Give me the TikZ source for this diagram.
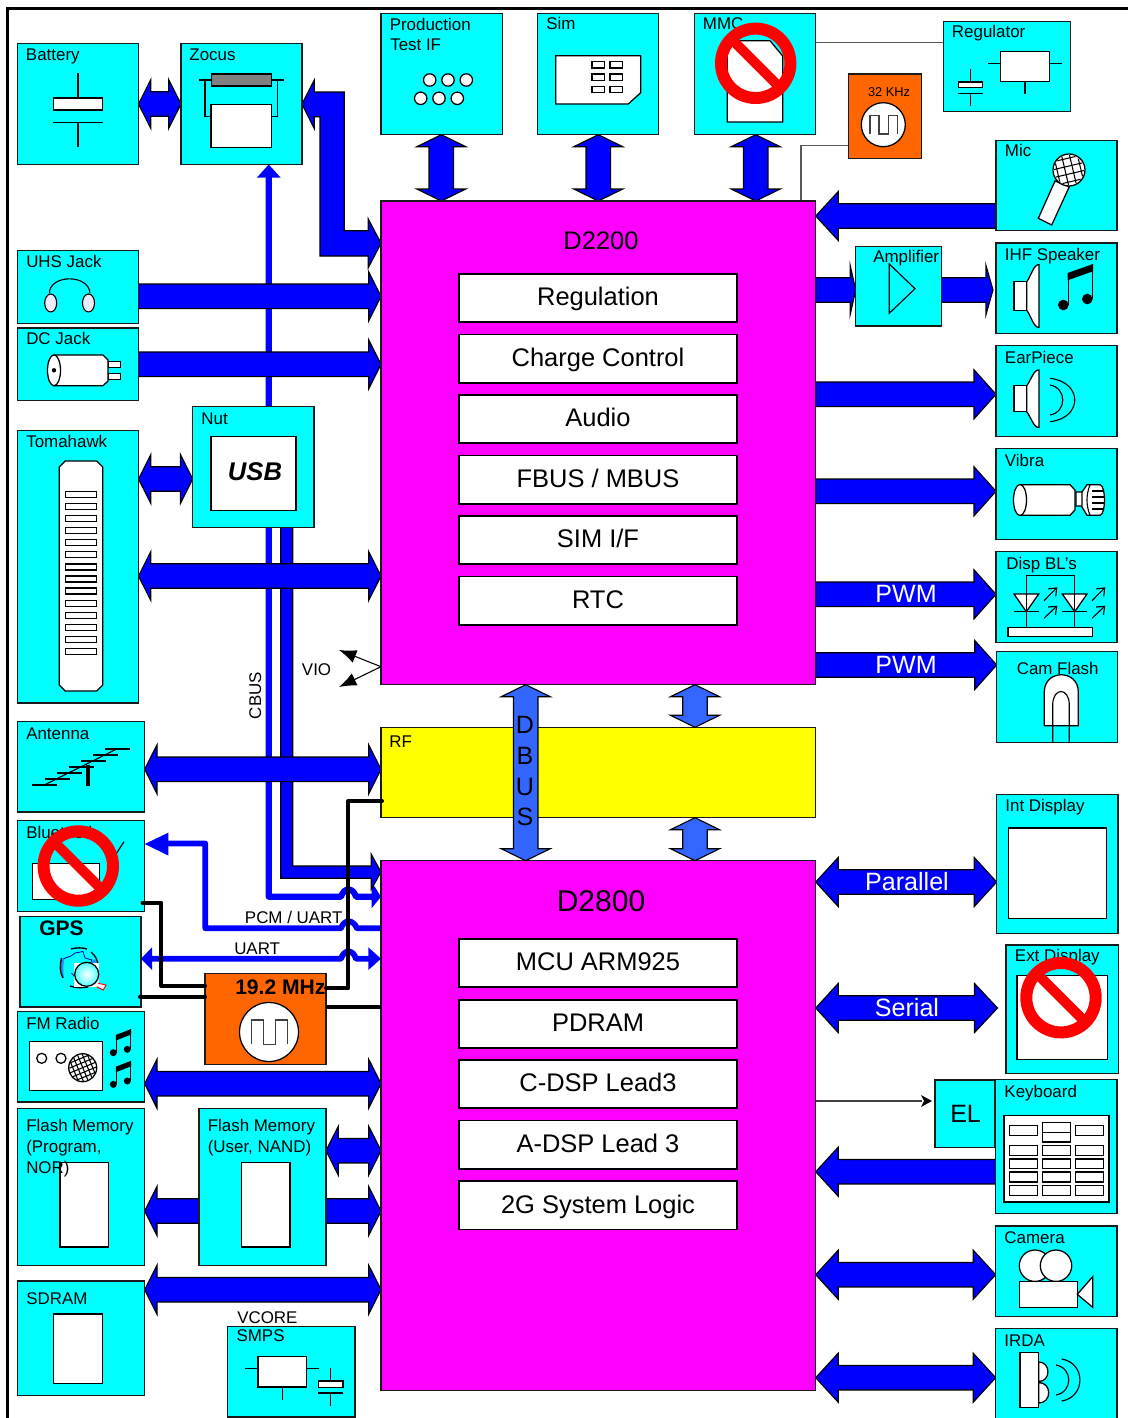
\documentclass[tikz,border=0pt]{standalone}
\usepackage{fontspec}
\setmainfont{Liberation Sans}
\usetikzlibrary{calc,arrows.meta}
\pgfdeclarelayer{conn}
\pgfdeclarelayer{top}
\pgfsetlayers{conn,main,top}
\definecolor{orng}{HTML}{FF6600}
\definecolor{dbus}{HTML}{3366FF}
\definecolor{edge}{HTML}{1A1A1A}
\definecolor{globeblue}{HTML}{1E90FF}
\tikzset{
  boxst/.style={draw=edge,line width=0.95pt,inner sep=0pt,outer sep=0pt,fill=cyan},
  lab/.style={anchor=base west,inner sep=0pt,font=\fontsize{12.7}{14}\selectfont,text=black},
  chiplab/.style={inner sep=0pt,font=\fontsize{19.1}{21}\selectfont,text=black},
  barrow/.style={draw=black,line width=0.85pt,fill=blue,line join=miter},
  icon/.style={draw=black,line width=0.85pt},
  wht/.style={draw=black,line width=0.95pt,fill=white},
  thinblue/.style={draw=blue,line width=4.6pt,line join=round},
  blk/.style={draw=black,line width=3pt,line join=round,line cap=round},
  thingray/.style={draw=black!65,line width=0.8pt},
}
\definecolor{cyan}{HTML}{00FFFF}
\definecolor{magenta}{HTML}{FF00FF}
\definecolor{yellow}{HTML}{FFFF00}
\definecolor{blue}{HTML}{0000FF}
\definecolor{red}{HTML}{FF0000}
% box: [fill]{name}{x0}{y0}{x1}{y1}
\newcommand\bx[6][cyan]{%
  \pgfmathsetmacro\bw{(#5-#3)*0.75}%
  \pgfmathsetmacro\bh{(#6-#4)*0.75}%
  \node[boxst,fill=#1,minimum width=\bw pt,minimum height=\bh pt] (#2) at ({(#3+#5)/2},{(#4+#6)/2}) {};%
}
\newcommand\tx[5][]{\node[lab,#1] (#2) at (#3,#4) {#5};}
\newcommand\wb[4]{\draw[wht] (#1,#2) rectangle (#3,#4);}
% double block arrow: [opts]{from}{to}{head A}{head B}
\newcommand\dbl[5][]{%
  \coordinate (bA) at (#2); \coordinate (bB) at (#3);
  \pgfmathsetmacro\hA{#4*0.75}\pgfmathsetmacro\hB{#5*0.75}
  \coordinate (pA) at ($(bA)!\hA pt!(bB)$); \coordinate (pB) at ($(bB)!\hB pt!(bA)$);
  \draw[barrow,#1] (bA) -- ($(pA)!18.4pt!90:(bB)$) -- ($(pA)!9.2pt!90:(bB)$) -- ($(pB)!9.2pt!-90:(bA)$) -- ($(pB)!18.4pt!-90:(bA)$) -- (bB) -- ($(pB)!18.4pt!90:(bA)$) -- ($(pB)!9.2pt!90:(bA)$) -- ($(pA)!9.2pt!-90:(bB)$) -- ($(pA)!18.4pt!-90:(bB)$) -- cycle;
}
% single block arrow with head at the second point
\newcommand\sgl[4][]{%
  \coordinate (bA) at (#2); \coordinate (bB) at (#3);
  \pgfmathsetmacro\hB{#4*0.75}
  \coordinate (pB) at ($(bB)!\hB pt!(bA)$);
  \draw[barrow,#1] ($(bA)!9.2pt!90:(bB)$) -- ($(pB)!9.2pt!-90:(bA)$) -- ($(pB)!18.4pt!-90:(bA)$) -- (bB) -- ($(pB)!18.4pt!90:(bA)$) -- ($(pB)!9.2pt!90:(bA)$) -- ($(bA)!9.2pt!-90:(bB)$) -- cycle;
}
\newcommand\nosign[2]{%
  \draw[red,line width=9pt] (#1,#2) circle[radius=34.7];
  \draw[red,line width=7.5pt] (#1-24.5,#2-24.5) -- (#1+24.5,#2+24.5);
}
\newcommand\wave[6]{\draw[draw=black!75,line width=0.8pt] (#1,#6) -- (#1,#5) -- (#2,#5) -- (#2,#6) -- (#3,#6) -- (#3,#5) -- (#4,#5) -- (#4,#6);}
\newcommand\speaker[6]{% rect x0,x1,y0,y1, cone x, cone y0 via args
  \draw[wht] (#1,#3) rectangle (#2,#4);
  \draw[wht] (#2,#3) .. controls (#2+4,#3-5) and (#5-5,#6-1) .. (#5,#6) -- (#5,{#3+#4-#6}) .. controls (#5-5,{#3+#4-#6+1}) and (#2+4,#4+5) .. (#2,#4) -- cycle;
}
\newcommand\note[7]{% two-headed note
  \fill[black] (#1,#2) circle[radius=#7];
  \fill[black] (#3,#4) circle[radius=#7];
  \draw[black,line width=1pt] (#1+#7-0.3,#2) -- (#1+#7-0.3,#5);
  \draw[black,line width=1pt] (#3+#7-0.3,#4) -- (#3+#7-0.3,#6);
  \fill[black] (#1+#7-1,#5) -- (#3+#7+0.4,#6) -- (#3+#7+0.4,#6+#7+2) -- (#1+#7-1,#5+#7+2) -- cycle;
}
\begin{document}
\begin{tikzpicture}[x=0.75pt,y=-0.75pt]
\useasboundingbox (0,0) rectangle (1128,1418);
\begin{pgfonlayer}{conn}
\fill[white] (0,0) rectangle (1128,1418);
\end{pgfonlayer}
\draw[black,line width=2.4pt] (7.5,1420) -- (7.5,8.5) -- (1130,8.5);

% ---------- boxes ----------
\bx{batt}{17.5}{43.5}{138.5}{164.5}
\bx{zoc}{181}{43.5}{302}{164.5}
\bx{prod}{381}{13.7}{502.7}{134.7}
\bx{sim}{537.7}{13.7}{658.7}{134.7}
\bx{mmc}{694.7}{13.7}{815.7}{134.7}
\bx{reg}{943.3}{21.3}{1070.3}{111.7}
\bx[orng]{khz}{848.7}{74}{921.3}{158.7}
\bx{mic}{996}{140.3}{1117}{230.7}
\bx{amp}{855.7}{246.3}{941.3}{326}
\bx{ihf}{996}{243}{1117}{333.7}
\bx{ear}{996}{345.7}{1117}{436.7}
\bx{vib}{996}{448.7}{1117}{539.3}
\bx{disp}{996}{551.7}{1117}{642.3}
\bx{cam}{996.7}{651.3}{1117.7}{742.3}
\bx{uhs}{17.5}{250.7}{138.5}{323.3}
\bx{dc}{17.5}{328}{138.5}{400.3}
\bx{nut}{192.7}{406.7}{314}{527.3}
\bx{tom}{17.5}{430.7}{138.5}{703}
\bx{ant}{17.5}{721.3}{144.7}{812}
\bx{bt}{17.5}{820.7}{144.7}{911.7}
\bx{gps}{20}{916.3}{141}{1007}
\bx{fm}{17.5}{1011.3}{144.7}{1102}
\bx[orng]{osc}{205}{973.7}{326}{1064.3}
\bx{fprog}{17.5}{1108.3}{144.7}{1265.3}
\bx{fuser}{199}{1108.3}{326}{1265.3}
\bx{sdram}{17.5}{1281}{144.7}{1395.7}
\bx{smps}{227.7}{1326.7}{355}{1417}
\bx[magenta]{da}{381}{201}{815.7}{684.7}
\bx[yellow]{rf}{381}{727.3}{815.7}{817.7}
\bx[magenta]{db}{381}{860.7}{815.7}{1390.7}
\bx{intd}{996.7}{794.3}{1118}{933.3}
\bx{extd}{1006}{945}{1118.3}{1073.3}
\bx{el}{935}{1080}{994.3}{1147.7}
\bx{kbd}{995.7}{1079.7}{1117}{1213.7}
\bx{camr}{995.7}{1226}{1117}{1316.7}
\bx{irda}{995.7}{1328.7}{1117}{1419}

% ---------- connectors below the boxes ----------
\begin{pgfonlayer}{conn}
  \draw[thingray] (mmc.east |- 0,42.3) -- (reg.west |- 0,42.3);
  \draw[thingray] (khz.west |- 0,145.7) -- (801,145.7) -- (801,0 |- da.north);
  % CBUS
  \draw[thinblue] (268.7,177) -- (268.7,896.7) -- (341,896.7) .. controls (344,887) and (353,887) .. (356,896.7) -- (372,896.7);
  \fill[blue] (268.7,0 |- zoc.south) -- (280.5,177.5) -- (257,177.5) -- cycle;
  \fill[blue] (db.west |- 0,896.7) -- (371.5,881.7) -- (371.5,908.3) -- cycle;
  % PCM / UART
  \draw[thinblue,line width=4.3pt] (db.west |- 0,928.3) -- (357,928.3) .. controls (353,919) and (344,919) .. (341,928.3) -- (205.3,928.3) -- (205.3,843.5) -- (165,843.5);
  \fill[blue] (bt.east |- 0,844) -- (168.3,832.7) -- (168.3,855.5) -- cycle;
  % UART
  \draw[thinblue,line width=4.3pt] (150,958.7) -- (341,958.7) .. controls (344,949) and (353,949) .. (356,958.7) -- (370,958.7);
  \fill[blue] (gps.east |- 0,958.7) -- (152,947.3) -- (152,970) -- cycle;
  \fill[blue] (db.west |- 0,958.7) -- (368.3,947.3) -- (368.3,970) -- cycle;
  % thick bus out of Nut
  \draw[barrow] (280.7,0 |- nut.south) -- (280.7,878.3) -- (371.3,878.3) -- (371.3,889.3) -- (db.west |- 0,872) -- (371.3,854.3) -- (371.3,866) -- (292.7,866) -- (292.7,0 |- nut.south);
  % block arrows, left side
  \dbl{batt.east |- 0,104}{zoc.west |- 0,104}{12.3}{12.3}
  \draw[barrow] (zoc.east |- 0,104) -- (314.3,80) -- (314.3,92) -- (344.3,92) -- (344.3,230.7) -- (368.3,230.7) -- (368.3,219) -- (da.west |- 0,243.3) -- (368.3,267.7) -- (368.3,256) -- (320,256) -- (320,116.7) -- (314.3,116.7) -- (314.3,128.7) -- cycle;
  \sgl{uhs.east |- 0,296.3}{da.west |- 0,296.3}{12.3}
  \sgl{dc.east |- 0,364.3}{da.west |- 0,364.3}{12.3}
  \dbl{tom.east |- 0,479}{nut.west |- 0,479}{12.3}{12.3}
  \dbl{tom.east |- 0,576}{da.west |- 0,576}{12.3}{12.3}
  \dbl{ant.east |- 0,769.3}{rf.west |- 0,769.3}{12.3}{12.3}
  \dbl{fm.east |- 0,1083.7}{db.west |- 0,1083.7}{12.3}{12.3}
  \dbl{fuser.east |- 0,1150.7}{db.west |- 0,1150.7}{12.3}{12.3}
  \sgl{fuser.east |- 0,1211}{db.west |- 0,1211}{12.3}
  \sgl{fuser.west |- 0,1211}{fprog.east |- 0,1211}{12.3}
  \dbl{sdram.east |- 0,1289.7}{db.west |- 0,1289.7}{12.3}{12.3}
  % block arrows, top
  \dbl{441.3,0 |- prod.south}{441.3,0 |- da.north}{12}{12}
  \dbl{598.3,0 |- sim.south}{598.3,0 |- da.north}{12}{12}
  \dbl{755.7,0 |- mmc.south}{755.7,0 |- da.north}{12}{12}
  % block arrows, right side
  \sgl{mic.west |- 0,216}{da.east |- 0,216}{22.6}
  \sgl{da.east |- 0,290}{amp.west |- 0,290}{5.5}
  \sgl{amp.east |- 0,290}{993,290}{7}
  \sgl{da.east |- 0,394.3}{ear.west |- 0,394.3}{22}
  \sgl{da.east |- 0,491.3}{vib.west |- 0,491.3}{22}
  \sgl{da.east |- 0,594.3}{disp.west |- 0,594.3}{22}
  \sgl{da.east |- 0,665}{cam.west |- 0,665}{22}
  \dbl{db.east |- 0,882}{intd.west |- 0,882}{22.5}{22.5}
  \dbl{db.east |- 0,1008}{997.5,1008}{22.5}{23}
  \sgl{kbd.west |- 0,1171.7}{db.east |- 0,1171.7}{22.5}
  \dbl{db.east |- 0,1274.7}{camr.west |- 0,1274.7}{22.5}{22.5}
  \dbl{db.east |- 0,1377.7}{irda.west |- 0,1377.7}{22.5}{22.5}
  % EL and VIO
  \coordinate (elin) at (932,1101);
  \draw[thingray,black!75] (db.east |- 0,1101) -- (922,1101);
  \fill[black] (elin) -- (921,1095) -- (924,1101) -- (921,1107) -- cycle;
  \coordinate (vioA) at (339,650);
  \coordinate (vioB) at (339,687);
  \draw[line width=0.8pt,-{Latex[length=13pt,width=10pt]}] (da.west |- 0,666.7) -- (vioA);
  \draw[line width=0.8pt,-{Latex[length=13pt,width=10pt]}] (da.west |- 0,666.7) -- (vioB);
\end{pgfonlayer}

% ---------- chip contents ----------
\foreach \nm/\yy/\yz/\chiptxt in {a/274/322/Regulation,b/334.5/383/Charge Control,c/395/443/Audio,d/455.5/504/{FBUS / MBUS},e/516/564/{SIM I/F},f/576.5/625/RTC,g/939/987/MCU ARM925,h/1000/1048/PDRAM,i/1060/1108/C-DSP Lead3,j/1120.5/1169/A-DSP Lead 3,k/1181/1229.5/2G System Logic}{
  \node[draw=black,line width=0.95pt,fill=white,minimum width=208.5pt,inner sep=0pt,outer sep=0pt,minimum height={(\yz-\yy)*0.75pt},chiplab,text height=11.8pt,text depth=0pt] (chip\nm) at (598,{(\yy+\yz)/2}) {\chiptxt};
}
\node[chiplab,anchor=base] (dat) at (601,249) {D2200};
\node[chiplab,anchor=base,font=\fontsize{22.5}{24}\selectfont] (dbt) at (601,911) {D2800};

% ---------- icons ----------
% Battery
\draw[icon] (78,73.3) -- (78,98);
\wb{53.7}{98}{102.3}{110}
\draw[icon] (53.3,122.3) -- (102.7,122.3) (78,122.3) -- (78,146.7);
% Zocus
\draw[icon] (198.7,80) -- (284,80) (205,80) -- (205,116.7) -- (211,116.7) (277.7,80) -- (277.7,116.7) -- (271.7,116.7);
\draw[icon,fill=black!50] (211.3,74) rectangle (271.7,86);
\wb{211}{104.3}{271.7}{147.7}
% Production
\foreach \cx/\cy in {429.7/80,448/80,466.3/80,420.7/98.3,439/98.3,457.3/98.3}{\draw[wht] (\cx,\cy) circle[radius=6.2];}
% Sim
\draw[wht] (555.7,55.7) -- (640.7,55.7) -- (640.7,92.7) -- (628.3,104) -- (555.7,104) -- cycle;
\foreach \cy in {61.7,74,86.3}{\draw[wht] (592,\cy) rectangle (604.7,\cy+6.2); \draw[wht] (610,\cy) rectangle (622.7,\cy+6.2);}
% MMC card
\draw[wht] (727.3,40.7) -- (770,40.7) -- (782.7,56) -- (782.7,122) -- (727.3,122) -- cycle;
% Regulator
\wb{1000.7}{51.7}{1049.3}{81.3}
\draw[icon] (988.3,63.3) -- (1000.7,63.3) (1049.3,63.3) -- (1061.7,63.3) (1025,81.3) -- (1025,94) (970.7,69.3) -- (970.7,82) (958,93.7) -- (983,93.7) (970.7,93.7) -- (970.7,106);
\wb{958.7}{82}{982.7}{87.7}
% 32 KHz
\draw[wht] (883.3,124.7) circle[radius=22];
\wave{870}{879}{888.3}{897.3}{115.3}{134}
% Mic
\draw[wht] (1055,181) -- (1069.3,186.7) -- (1051.7,225) -- (1038.3,218.3) -- cycle;
\draw[wht] (1069,170) circle[radius=16];
\begin{scope}
  \clip (1069,170) circle[radius=15];
  \foreach \k in {-12,-4,4,12}{
    \draw[black,line width=0.8pt] (1052,170+\k+4) -- (1086,170+\k-4);
    \draw[black,line width=0.8pt] (1069+\k-4,153) -- (1069+\k+4,187);
  }
\end{scope}
% Amplifier
\draw[icon] (889.3,264) -- (889.3,313.3) -- (915,288.7) -- cycle;
% IHF speaker
\speaker{1014}{1026.7}{281.7}{310.3}{1039}{264.7}
\note{1063.3}{305}{1087.3}{299}{273}{264}{5.3}
% EarPiece
\speaker{1014}{1026.7}{385.7}{411.7}{1039}{370}
\draw[icon] (1050,385) .. controls (1067,388) and (1067,412) .. (1050,415);
\draw[icon] (1050,378.3) .. controls (1083,382) and (1083,418) .. (1050,421.7);
% Vibra
\draw[wht] (1076,492) -- (1085,492) .. controls (1088,494) and (1088,503) .. (1085,506) -- (1076,506) -- cycle;
\draw[wht] (1020,484.7) -- (1070,484.7) -- (1075,490) -- (1075,510) -- (1070,515.3) -- (1020,515.3) -- cycle;
\draw[wht] (1020,500) ellipse[x radius=6.5,y radius=15.5];
\draw[wht] (1082,492) -- (1087,484.7) -- (1100,484.7) .. controls (1106,486) and (1106,514) .. (1100,515.3) -- (1087,515.3) -- (1082,507) -- cycle;
\draw[icon] (1090,484.7) .. controls (1086,495) and (1086,505) .. (1090,515.3);
\draw[icon] (1092,491) -- (1103,491) (1092,497) -- (1104,497) (1092,503) -- (1104,503) (1092,509) -- (1103,509);
% Disp BLs
\draw[icon] (1026.3,627.3) -- (1026.3,575.7) -- (1074.7,575.7) -- (1074.7,627.3);
\draw[wht,fill=white] (1014,594) -- (1038.7,594) -- (1026.3,611.7) -- cycle;
\draw[wht,fill=white] (1062.3,594) -- (1087,594) -- (1074.7,611.7) -- cycle;
\draw[icon] (1026.3,594) -- (1026.3,612) (1074.7,594) -- (1074.7,612);
\draw[icon] (1013.7,611.7) -- (1039,611.7) (1062,611.7) -- (1087.3,611.7);
\wb{1008}{627.3}{1092.7}{636.3}
\foreach \ax in {1044,1092}{
  \draw[icon,-{Straight Barb[length=5pt,width=8pt]}] (\ax,600.7) -- (\ax+13.3,587.3);
  \draw[icon,-{Straight Barb[length=5pt,width=8pt]}] (\ax,618.3) -- (\ax+13.3,605.7);
}
% Cam flash
\draw[wht] (1044.3,725.7) -- (1044.3,692) .. controls (1044.3,669) and (1078.3,669) .. (1078.3,692) -- (1078.3,725.7) -- cycle;
\draw[icon] (1052.7,743) -- (1052.7,705) .. controls (1052.7,687) and (1069.3,687) .. (1069.3,705) -- (1069.3,743);
% UHS
\draw[icon] (49.3,293.3) .. controls (50,274) and (89,274) .. (90,293.3);
\draw[icon,fill=blue!8!white] (50.7,303) ellipse[x radius=6,y radius=9];
\draw[icon,fill=blue!8!white] (88.5,303) ellipse[x radius=6,y radius=9];
% DC jack
\wb{108}{361.7}{120.7}{367.7}
\wb{108}{373.3}{120.7}{379.3}
\draw[wht] (54,355) -- (103,355) -- (108,360) -- (108,381) -- (103,385.7) -- (54,385.7) -- cycle;
\draw[wht] (54,370.3) ellipse[x radius=6.5,y radius=15.4];
\fill[black] (54,370.3) circle[radius=2.2];
% Nut
\wb{211}{436.7}{296}{510.7}
% Tomahawk
\draw[wht] (65.3,461) -- (96.7,461) -- (102.7,467) -- (102.7,685) -- (96.7,691) -- (65.3,691) -- (59.3,685) -- (59.3,467) -- cycle;
\foreach \i in {0,...,13}{\draw[wht] (65.7,491.3+\i*12.1) rectangle (96.7,497.3+\i*12.1);}
% Antenna
\draw[icon] (44.3,785) -- (116.7,749);
\foreach \yy/\xx in {785/32.3,779/44.7,773/57,767/69,761/81,755/93,749/105}{\draw[icon] (\xx,\yy) -- (\xx+25,\yy);}
\draw[black,line width=3pt] (88.3,765) -- (88.3,785.7);
% Bluetooth
\wb{32.3}{863.3}{99.3}{899.3}
\draw[icon] (124,841.7) -- (116,854);
% GPS
\fill[globeblue] (62,958) .. controls (59.5,965) and (60,973) .. (64,978) .. controls (63,972) and (63,964) .. (64.5,958) -- cycle;
\fill[globeblue] (92,961) -- (95,959) -- (98.5,966) -- (98.5,972) -- (93,971) -- cycle;
\draw[black,line width=1pt] (61.5,958) .. controls (59.5,965) and (60,973) .. (63,978);
\draw[black,line width=1pt] (71,949) .. controls (76,947.5) and (83,947.5) .. (87,949);
\draw[black,line width=1pt] (91,952) .. controls (96,956) and (98,961) .. (98.5,968);
\draw[black,line width=1pt] (70,986) .. controls (76,988) and (82,988) .. (88,987);
\draw[blue!70!black,line width=0.6pt] (64,958.5) -- (71,956) -- (75,953) -- (83,951.5) -- (85,958) -- (92,960) -- (90,964);
\draw[blue!70!black,line width=0.6pt] (71.5,973) -- (75,977);
\fill[white] (74,962.7) rectangle (99.3,986.7);
\draw[red,line width=0.7pt,fill=white] (98.3,983.3) -- (106,985) -- (103.3,990) -- (96.7,986.7);
\shade[inner color=white,outer color=cyan!70!white] (86.7,974.3) circle[radius=12];
\draw[black,line width=0.95pt] (86.7,974.3) circle[radius=12];
% FM radio
\wb{29.3}{1041.7}{102.3}{1090.3}
\draw[wht] (41.7,1058.3) circle[radius=5];
\draw[wht] (61,1058.3) circle[radius=5];
\draw[wht] (82.7,1067.7) circle[radius=14];
\begin{scope}
  \clip (82.7,1067.7) circle[radius=13.5];
  \foreach \k in {-10,-5,0,5,10}{
    \draw[black,line width=0.8pt] (68,1067.7+\k+6) -- (97,1067.7+\k-6);
    \draw[black,line width=0.8pt] (82.7+\k-6,1053) -- (82.7+\k+6,1082);
  }
\end{scope}
\note{113.3}{1052.7}{127.3}{1049.3}{1035}{1029}{3.5}
\note{113.3}{1084.4}{127.3}{1081}{1066.7}{1060.7}{3.5}
% 19.2 MHz
\draw[wht] (269,1032) circle[radius=29.5];
\wave{251.7}{263.7}{275.3}{287.3}{1020}{1044.3}
% Flash + SDRAM
\wb{60}{1162.7}{108.3}{1247}
\wb{241.7}{1162.7}{290}{1247}
\wb{53.7}{1314}{102.3}{1383.7}
% SMPS
\wb{258}{1356.7}{306.3}{1387}
\draw[icon] (245.3,1368.7) -- (258,1368.7) (306.3,1368.7) -- (319,1368.7) (282.3,1387) -- (282.3,1399.5) (330.7,1368.3) -- (330.7,1381) (318,1393) -- (343,1393) (330.7,1393) -- (330.7,1405.7);
\wb{318.3}{1381}{343}{1387.3}
% Int / Ext display
\wb{1008.3}{828}{1106.3}{918.3}
\wb{1017}{975.7}{1107.7}{1059.7}
% Keyboard
\wb{1004}{1115.7}{1109}{1202}
\wb{1009.7}{1125.7}{1037.7}{1135.7}
\wb{1075.3}{1125.7}{1103.3}{1135.7}
\wb{1042.7}{1122.7}{1070.3}{1132.3}
\wb{1042.7}{1132.3}{1070.3}{1142}
\foreach \r/\s in {1145.7/1155.7,1159/1168.7,1172/1182,1185.3/1195.3}{
  \wb{1009.7}{\r}{1037.7}{\s}
  \wb{1042.7}{\r}{1070.3}{\s}
  \wb{1075.3}{\r}{1103.3}{\s}
}
% Camera
\draw[wht] (1035,1265.7) circle[radius=15.7];
\draw[wht] (1056,1265.7) circle[radius=15.7];
\wb{1019.7}{1281.3}{1077.3}{1307.3}
\draw[wht] (1077.3,1294.3) -- (1092.7,1276.7) -- (1092.7,1307.3) -- cycle;
% IRDA
\draw[wht] (1038.7,1362) .. controls (1051,1362) and (1051,1381.5) .. (1038.7,1381.5) -- cycle;
\draw[wht] (1038.7,1382.5) .. controls (1052,1382.5) and (1052,1403) .. (1038.7,1403) -- cycle;
\wb{1020}{1352.7}{1038.7}{1407.7}
\draw[icon] (1056,1365) .. controls (1073,1368) and (1073,1392) .. (1056,1395);
\draw[icon] (1061.7,1359) .. controls (1086,1363) and (1086,1397) .. (1061.7,1401);

% ---------- labels ----------
\tx{battt}{25.7}{60.5}{Battery}
\tx{zoct}{189.2}{60.5}{Zocus}
\tx{prodA}{389.5}{30}{Production}
\tx{prodB}{390}{50}{Test IF}
\tx{simt}{546}{29}{Sim}
\tx{mmct}{702.7}{29}{MMC}
\tx{regt}{951.7}{37}{Regulator}
\tx[font=\fontsize{9.6}{11}\selectfont,anchor=base]{khzt}{889}{96}{32 KHz}
\tx{mict}{1004.7}{156}{Mic}
\tx{ampt}{873}{262}{Amplifier}
\tx{ihft}{1004.7}{260}{IHF Speaker}
\tx{eart}{1004.7}{363}{EarPiece}
\tx{vibt}{1004.7}{466}{Vibra}
\tx{dispt}{1006.2}{569.5}{Disp BL's}
\tx{camt}{1016.5}{674}{Cam Flash}
\tx{uhst}{26}{267.5}{UHS Jack}
\tx{dct}{26}{344.5}{DC Jack}
\tx{nutt}{201.2}{424}{Nut}
\tx{tomt}{26}{447}{Tomahawk}
\tx{antt}{26}{739}{Antenna}
\tx{btt}{26}{838.5}{Bluetooth}
\tx{fmt}{26}{1029}{FM Radio}
\tx{fpA}{26}{1131.7}{Flash Memory}
\tx{fpB}{26}{1152.7}{(Program,}
\tx{fpC}{26}{1173.3}{NOR)}
\tx{fuA}{207.5}{1131.7}{Flash Memory}
\tx{fuB}{207.5}{1152.7}{(User, NAND)}
\tx{sdt}{26}{1304.5}{SDRAM}
\tx{vcA}{237}{1323}{VCORE}
\tx{smA}{236.3}{1341.5}{SMPS}
\tx{intt}{1005.2}{811.5}{Int Display}
\tx{extt}{1014.7}{961}{Ext Display}
\tx{kbdt}{1004.2}{1097}{Keyboard}
\tx{camrt}{1004.2}{1243}{Camera}
\tx{irdat}{1004.2}{1346}{IRDA}
\tx{rft}{389.2}{747}{RF}
\tx{viot}{301.7}{675.7}{VIO}
\tx{pcmt}{244.7}{923.3}{PCM / UART}
\tx{uartt}{234}{954}{UART}
\tx[rotate=90,anchor=base]{cbust}{261}{695.5}{CBUS}
\tx[font=\bfseries\fontsize{15.8}{17}\selectfont]{gpst}{39}{935}{GPS}
\tx[font=\bfseries\fontsize{15.8}{17}\selectfont]{osct}{235}{994}{19.2 MHz}
\tx[font=\bfseries\itshape\fontsize{19.2}{21}\selectfont,anchor=base]{usbt}{255}{480.5}{USB}
\tx[font=\fontsize{18.8}{20}\selectfont]{elt}{950}{1122}{EL}

% ---------- on top ----------
\begin{pgfonlayer}{top}
  \dbl[fill=dbus]{525.7,0 |- da.south}{525.7,0 |- db.north}{12}{12}
  \dbl[fill=dbus]{695,0 |- da.south}{695,0 |- rf.north}{12}{12}
  \dbl[fill=dbus]{695,0 |- rf.south}{695,0 |- db.north}{12}{12}
  \foreach \nm/\yy/\ll in {dA/733/D,dB/764/B,dC/795.7/U,dD/825/S}{
    \node[chiplab,anchor=base,font=\fontsize{18.8}{20}\selectfont] (\nm) at (525,\yy) {\ll};
  }
  \foreach \nm/\xx/\yy/\ll in {pwA/906/602.5/PWM,pwB/906/673/PWM,par/907/890.5/Parallel,ser/907/1016.5/Serial}{
    \node[anchor=base,inner sep=0pt,text=white,font=\fontsize{18.8}{20}\selectfont] (\nm) at (\xx,\yy) {\ll};
  }
  % black clock lines
  \draw[blk] (382,801) -- (348.3,801) -- (348.3,988.3) -- (osc.east |- 0,988.3);
  \draw[blk,line cap=butt] (osc.east |- 0,1007) -- (db.west |- 0,1007);
  \draw[blk] (142.5,902.7) -- (161.3,902.7) -- (161.3,985.7) -- (osc.west |- 0,985.7);
  \draw[blk] (140,996.7) -- (osc.west |- 0,996.7);
  \nosign{755.7}{63.3}
  \nosign{78.3}{866}
  \nosign{1061}{997.7}
\end{pgfonlayer}
\end{tikzpicture}
\end{document}
